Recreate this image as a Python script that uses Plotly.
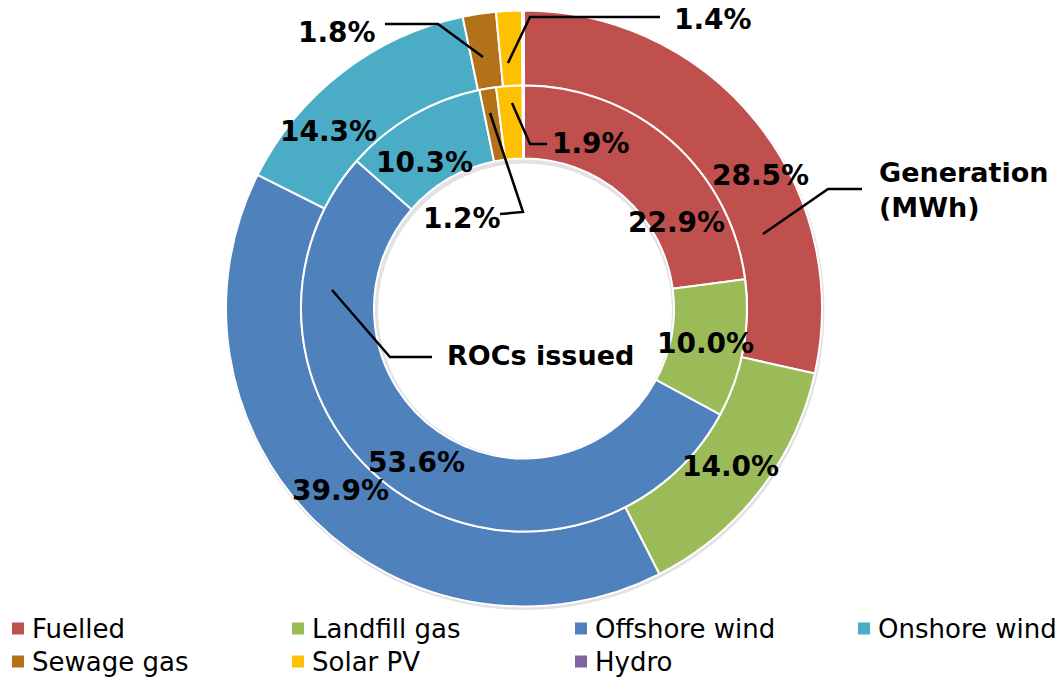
import plotly.graph_objects as go

W, H = 1064, 677

categories = ["Fuelled", "Landfill gas", "Offshore wind", "Onshore wind", "Sewage gas", "Solar PV", "Hydro"]
generation_pct = [28.5, 14.0, 39.9, 14.3, 1.8, 1.4, 0.1]
rocs_pct = [22.9, 10.0, 53.6, 10.3, 1.2, 1.9, 0.1]
colors = ["#C0504D", "#9BBB59", "#4F81BD", "#4BACC6", "#B3711A", "#FFC000", "#8064A2"]

# geometry (page pixels)
CX, CY = 524, 308.5
R_OUT, R_MID, R_IN = 298, 223, 150


def px(x):
    return x / W


def py(y):
    return 1 - y / H


def dom(r, cx=CX, cy=CY):
    return dict(x=[px(cx - r), px(cx + r)], y=[py(cy + r), py(cy - r)])


fig = go.Figure()
# soft shadow behind the rings (slightly offset down-right)
fig.add_trace(go.Pie(values=[1], domain=dom(R_OUT + 1.5, CX + 1, CY + 2),
                     hole=(R_IN - 3) / (R_OUT + 1.5),
                     marker=dict(colors=["#E2E2E2"], line=dict(width=0)),
                     textinfo="none", hoverinfo="skip", showlegend=False, sort=False))
fig.add_trace(go.Pie(labels=categories, values=generation_pct, domain=dom(R_OUT),
                     hole=R_MID / R_OUT, sort=False, direction="clockwise", rotation=0,
                     marker=dict(colors=colors, line=dict(color="white", width=2)),
                     textinfo="none", name="Generation (MWh)", showlegend=False))
fig.add_trace(go.Pie(labels=categories, values=rocs_pct, domain=dom(R_MID),
                     hole=R_IN / R_MID, sort=False, direction="clockwise", rotation=0,
                     marker=dict(colors=colors, line=dict(color="white", width=2)),
                     textinfo="none", name="ROCs issued", showlegend=False))

PCT_FONT = dict(family="DejaVu Sans", size=28, color="black", weight="bold")
LBL_FONT = dict(family="DejaVu Sans", size=27, color="black", weight="bold")

# percentage labels: (text, x_center_px, y_center_px)
outer_pos = [(760, 175), (730, 467), (340, 490), (328, 131), (337, 33), (713, 20)]
inner_pos = [(676, 222), (705, 343), (416, 462), (424, 163), (462, 218), (591, 143)]
labels = [(f"{v:.1f}%", x, y) for v, (x, y) in zip(generation_pct[:6], outer_pos)]
labels += [(f"{v:.1f}%", x, y) for v, (x, y) in zip(rocs_pct[:6], inner_pos)]

annotations = []
for t, x, y in labels:
    annotations.append(dict(text=t, x=px(x), y=py(y), xref="paper", yref="paper",
                            showarrow=False, font=PCT_FONT, xanchor="center", yanchor="middle"))

annotations.append(dict(text="Generation<br>(MWh)", x=px(877), y=py(190), xref="paper", yref="paper",
                        showarrow=False, font=LBL_FONT, xanchor="left", yanchor="middle", align="left"))
annotations.append(dict(text="ROCs issued", x=px(445), y=py(355), xref="paper", yref="paper",
                        showarrow=False, font=LBL_FONT, xanchor="left", yanchor="middle"))

# leader lines (page-pixel polylines)
leaders = [
    [(385, 24), (438, 24), (483, 57)],
    [(660, 17), (530, 17), (508, 63)],
    [(547, 144), (530, 144), (512, 103)],
    [(500, 214), (523, 212), (490, 113)],
    [(862, 189), (828, 189), (763, 234)],
    [(432, 357), (390, 357), (332, 290)],
]
shapes = []
for pts in leaders:
    path = "M" + " L".join(f"{px(x)},{py(y)}" for x, y in pts)
    shapes.append(dict(type="path", path=path, xref="paper", yref="paper",
                       line=dict(color="black", width=2.5)))

# legend (manual, 4 columns x 2 rows)
LEG_COL_X = [12, 292, 575, 858]
LEG_ROW_Y = [628.5, 661.5]
LEG_FONT = dict(family="DejaVu Sans", size=26, color="black")
for i, (cat, col) in enumerate(zip(categories, colors)):
    r, c = divmod(i, 4)
    x0, yc = LEG_COL_X[c], LEG_ROW_Y[r]
    shapes.append(dict(type="rect", xref="paper", yref="paper",
                       x0=px(x0), x1=px(x0 + 12), y0=py(yc + 6), y1=py(yc - 6),
                       fillcolor=col, line=dict(width=0)))
    annotations.append(dict(text=cat, x=px(x0 + 18), y=py(yc), xref="paper", yref="paper",
                            showarrow=False, font=LEG_FONT, xanchor="left", yanchor="middle"))

fig.update_layout(
    width=W, height=H,
    margin=dict(l=0, r=0, t=0, b=0),
    paper_bgcolor="white", plot_bgcolor="white",
    annotations=annotations, shapes=shapes,
    showlegend=False,
)

fig.write_html("out.html", config={"displayModeBar": False, "staticPlot": True},
               post_script="document.body.style.margin='0';document.body.style.overflow='hidden';")
